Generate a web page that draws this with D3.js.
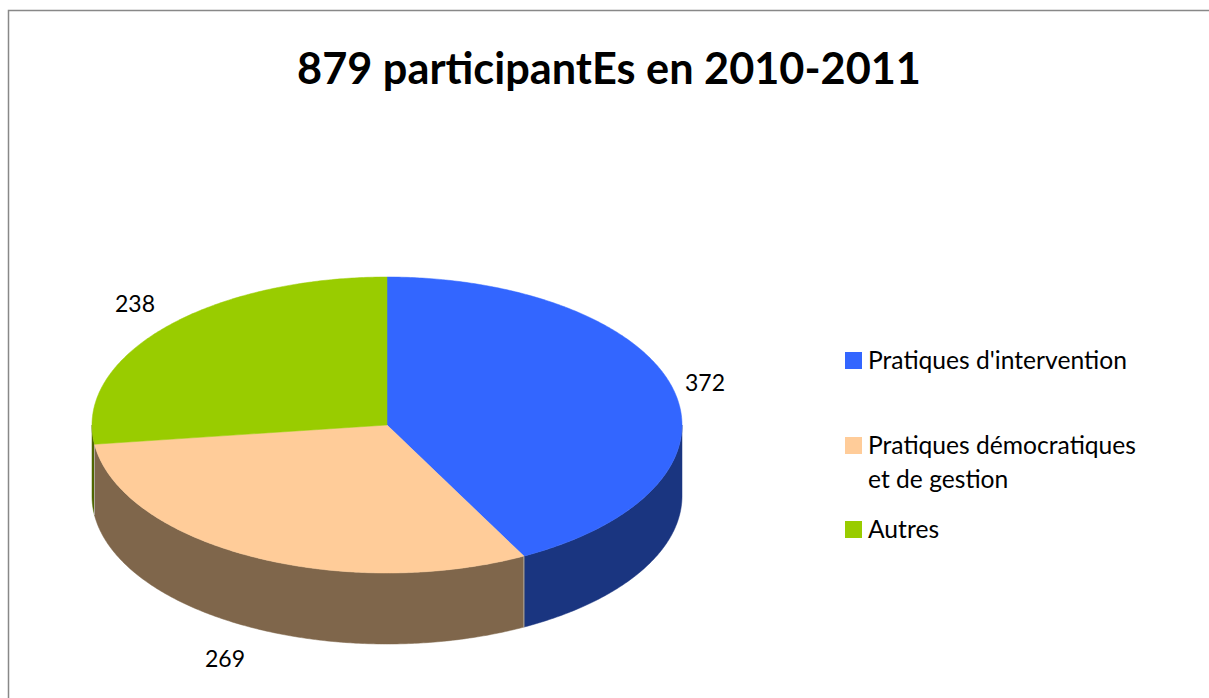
<!DOCTYPE html>
<html lang="fr">
<head>
    <meta charset="UTF-8">
    <script src="https://cdn.jsdelivr.net/npm/d3@7"></script>
    <title>879 participantEs en 2010-2011</title>
    <style>
        * {
            margin: 0;
            padding: 0;
            box-sizing: border-box;
        }

        body {
            background: white;
        }

        svg text {
            font-family: Lato, "Open Sans", sans-serif;
            fill: #000;
        }
    </style>
</head>
<body>
    <svg width="1209" height="698"></svg>
    <script>
        let categories = ['Pratiques d\'intervention', 'Pratiques démocratiques et de gestion', 'Autres']
        let legendLines = [['Pratiques d\'intervention'], ['Pratiques démocratiques', 'et de gestion'], ['Autres']]
        let values = [372, 269, 238]
        let topColors = ['#3366ff', '#ffcc99', '#99cc00']
        let sideColors = ['#1a3580', '#7f664b', '#4d6600']
        let title = '879 participantEs en 2010-2011'

        let svg = d3.select('svg')

        // frame (only top and left visible in the picture)
        svg.append('path')
            .attr('d', 'M8.5,698 L8.5,10.5 L1209,10.5')
            .attr('fill', 'none')
            .attr('stroke', '#888')
            .attr('stroke-width', 1.5)

        // title, fitted to the width it has in the reference
        let titleText = svg.append('text')
            .attr('x', 609)
            .attr('y', 84)
            .attr('text-anchor', 'middle')
            .attr('font-weight', 'bold')
            .attr('font-size', 40)
            .text(title)
        let tw = titleText.node().getComputedTextLength()
        titleText.attr('font-size', 40 * 624 / tw)

        // pie geometry
        let cx = 387, cy = 425, rx = 295, ry = 148, depth = 71

        let pie = d3.pie().sort(null).value(d => d)
        let arcs = pie(values)

        // angle measured clockwise from 12 o'clock
        let px = a => cx + rx * Math.sin(a)
        let py = a => cy - ry * Math.cos(a)

        let line = d3.line()

        function ellipseArc(a0, a1, dy) {
            let n = Math.max(2, Math.ceil(Math.abs(a1 - a0) / 0.01))
            return d3.range(n + 1).map(i => {
                let a = a0 + (a1 - a0) * i / n
                return [px(a), py(a) + dy]
            })
        }

        // side walls: only the front half (PI/2 .. 3PI/2) is visible
        let sides = svg.append('g')
        arcs.forEach((d, i) => {
            let a0 = Math.max(d.startAngle, Math.PI / 2)
            let a1 = Math.min(d.endAngle, Math.PI * 3 / 2)
            if (a1 <= a0) return
            let pts = ellipseArc(a0, a1, 0).concat(ellipseArc(a1, a0, depth))
            sides.append('path')
                .attr('d', line(pts) + 'Z')
                .attr('fill', sideColors[i])
                .attr('stroke', sideColors[i])
                .attr('stroke-width', 0.5)
        })

        // thin edges between side walls
        arcs.forEach(d => {
            let a = d.endAngle
            if (a > Math.PI / 2 && a < Math.PI * 3 / 2) {
                sides.append('line')
                    .attr('x1', px(a)).attr('y1', py(a))
                    .attr('x2', px(a)).attr('y2', py(a) + depth)
                    .attr('stroke', '#b0a89c')
                    .attr('stroke-width', 1)
            }
        })

        // top faces
        let tops = svg.append('g')
        arcs.forEach((d, i) => {
            let pts = [[cx, cy]].concat(ellipseArc(d.startAngle, d.endAngle, 0))
            tops.append('path')
                .attr('d', line(pts) + 'Z')
                .attr('fill', topColors[i])
                .attr('stroke', topColors[i])
                .attr('stroke-width', 0.5)
        })

        // value labels
        let labelPos = [[705, 391], [225, 667], [135, 312]]
        svg.append('g')
            .selectAll('text')
            .data(values)
            .join('text')
            .attr('x', (d, i) => labelPos[i][0])
            .attr('y', (d, i) => labelPos[i][1])
            .attr('text-anchor', 'middle')
            .attr('font-size', 23)
            .text(d => d)

        // legend
        let legendY = [352, 437, 521]
        let legend = svg.append('g')
            .selectAll('g')
            .data(categories)
            .join('g')
            .attr('transform', (d, i) => `translate(845, ${legendY[i]})`)

        legend.append('rect')
            .attr('width', 17)
            .attr('height', 17)
            .attr('fill', (d, i) => topColors[i])

        let legendText = legend.append('text')
            .attr('font-size', 22)
        legendText.selectAll('tspan')
            .data((d, i) => legendLines[i])
            .join('tspan')
            .attr('x', 23)
            .attr('y', (d, j) => 17 + j * 34)
            .text(d => d)

        // fit the legend font so the first entry is as wide as in the reference
        let lw = legendText.node().getComputedTextLength()
        legendText.attr('font-size', 22 * 259 / lw)
    </script>
</body>
</html>
